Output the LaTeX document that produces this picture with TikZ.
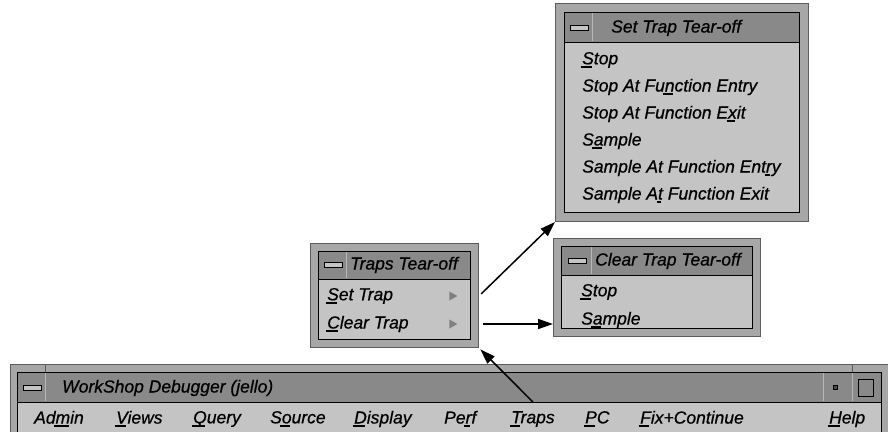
\documentclass[tikz,border=0pt]{standalone}
\usepackage{fontspec}
\setmainfont{Liberation Sans}
\newfontfamily\uifont{Liberation Sans}[ItalicFeatures={FakeBold=0.7}]
\usetikzlibrary{arrows.meta,shapes.geometric}
\definecolor{framegray}{HTML}{A7A7A7}
\definecolor{edgegray}{HTML}{5C5C5C}
\definecolor{bargray}{HTML}{898989}
\definecolor{bodygray}{HTML}{C4C4C4}
\definecolor{seplight}{HTML}{B8B8B8}
\newcommand{\mn}[1]{\setbox0\hbox{#1}\rlap{\kern-1.5pt\raisebox{-3.5pt}{\rule{\wd0}{1.6pt}}}#1}

\begin{document}
\begin{tikzpicture}[
    x=1pt, y=-1pt,
    frame/.style={draw=edgegray, fill=framegray, line width=1pt, anchor=north west, inner sep=0pt},
    bar/.style={draw=black, fill=bargray, line width=1pt},
    body/.style={draw=black, fill=bodygray, line width=1.2pt, anchor=north west, inner sep=0pt},
    txt/.style={anchor=west, inner sep=0pt, font=\uifont\itshape\fontsize{17.5}{20}\selectfont},
    minbtn/.style={draw=black, fill=bodygray, line width=0.8pt, minimum width=18pt, minimum height=5pt, inner sep=0pt},
    sep/.style={seplight, line width=1pt},
    sub/.style={isosceles triangle, isosceles triangle stretches, fill=gray, minimum width=9pt, minimum height=8pt, inner sep=0pt},
    link/.style={-{Triangle[length=15pt,width=10pt]}, line width=1.5pt}
]
\clip (0,0) rectangle (888,431);
\fill[white] (0,0) rectangle (888,431);

\node[frame, minimum width=253pt, minimum height=218pt] (setframe) at (555,3) {};
\draw[bar] (564,12) rectangle (799,42);
\node[body, minimum width=235pt, minimum height=170pt] (setbody) at (564,42) {};
\node[minbtn] (setbtn) at (579,28) {};
\draw[sep] (592,13) -- (592,41);
\node[txt] (settitle) at (611,28) {Set Trap Tear-off};
\node[txt] (setstop) at (582,60) {\mn{S}top};
\node[txt] (setstopentry) at (582,87) {Stop At Fu\mn{n}ction Entry};
\node[txt] (setstopexit) at (582,114) {Stop At Function E\mn{x}it};
\node[txt] (setsample) at (582,141) {S\mn{a}mple};
\node[txt] (setsampleentry) at (582,168) {Sample At Function Ent\mn{r}y};
\node[txt] (setsampleexit) at (582,195) {Sample A\mn{t} Function Exit};

\node[frame, minimum width=168pt, minimum height=104pt] (trapsframe) at (310,243) {};
\draw[bar] (318,251) rectangle (470,279);
\node[body, minimum width=152pt, minimum height=60pt] (trapsbody) at (318,279) {};
\node[minbtn] (trapsbtn) at (333,265) {};
\draw[sep] (346,252) -- (346,278);
\node[txt] (trapstitle) at (350,265) {Traps Tear-off};
\node[txt] (settrap) at (327,296) {\mn{S}et Trap};
\node[txt] (cleartrap) at (327,324) {\mn{C}lear Trap};
\node[sub] (setsub) at (452,296) {};
\node[sub] (clearsub) at (452,324) {};

\node[frame, minimum width=207pt, minimum height=98pt] (clearframe) at (553,238) {};
\draw[bar] (561,246) rectangle (752,275);
\node[body, minimum width=191pt, minimum height=53pt] (clearbody) at (561,275) {};
\node[minbtn] (clearbtn) at (577,261) {};
\draw[sep] (591,247) -- (591,274);
\node[txt] (cleartitle) at (595,261) {Clear Trap Tear-off};
\node[txt] (clearstop) at (581,292) {\mn{S}top};
\node[txt] (clearsample) at (581,320) {S\mn{a}mple};

\node[frame, minimum width=885pt, minimum height=80pt] (mainframe) at (10,364) {};
\draw[edgegray] (45,364) -- (45,372) (852,364) -- (852,372);
\draw[bar] (17,372) rectangle (881,402);
\node[body, minimum width=864pt, minimum height=40pt] (menubar) at (17,402) {};
\node[minbtn] (mainbtn) at (32,388) {};
\draw[sep] (45,373) -- (45,401) (823,373) -- (823,401) (852,373) -- (852,401);
\node[txt] (maintitle) at (62,388) {WorkShop Debugger (jello)};
\node[draw=black, fill=black!70, minimum size=4pt, inner sep=0pt] (maindot) at (835,387) {};
\node[draw=black, fill=bargray, line width=1.5pt, minimum width=15pt, minimum height=17pt, inner sep=0pt] (mainmax) at (866,388) {};
\node[txt] (admin) at (34,419) {Ad\mn{m}in};
\node[txt] (views) at (116,419) {\mn{V}iews};
\node[txt] (query) at (193,419) {\mn{Q}uery};
\node[txt] (source) at (270,419) {S\mn{o}urce};
\node[txt] (display) at (354,419) {\mn{D}isplay};
\node[txt] (perf) at (444,419) {Pe\mn{r}f};
\node[txt] (trapsmenu) at (511,419) {\mn{T}raps};
\node[txt] (pc) at (585,419) {\mn{P}C};
\node[txt] (fixcont) at (640,419) {\mn{F}ix+Continue};
\node[txt] (help) at (829,419) {\mn{H}elp};

\draw[link, shorten <=3pt] (trapsframe.east |- setsub) -- (setframe.south west);
\draw[link, shorten <=4pt] (trapsframe.east |- clearsub) -- (clearframe.west |- clearsub);
\draw[link, shorten >=2pt] (trapsmenu.north |- menubar.north) -- (trapsframe.south east);
\end{tikzpicture}
\end{document}
